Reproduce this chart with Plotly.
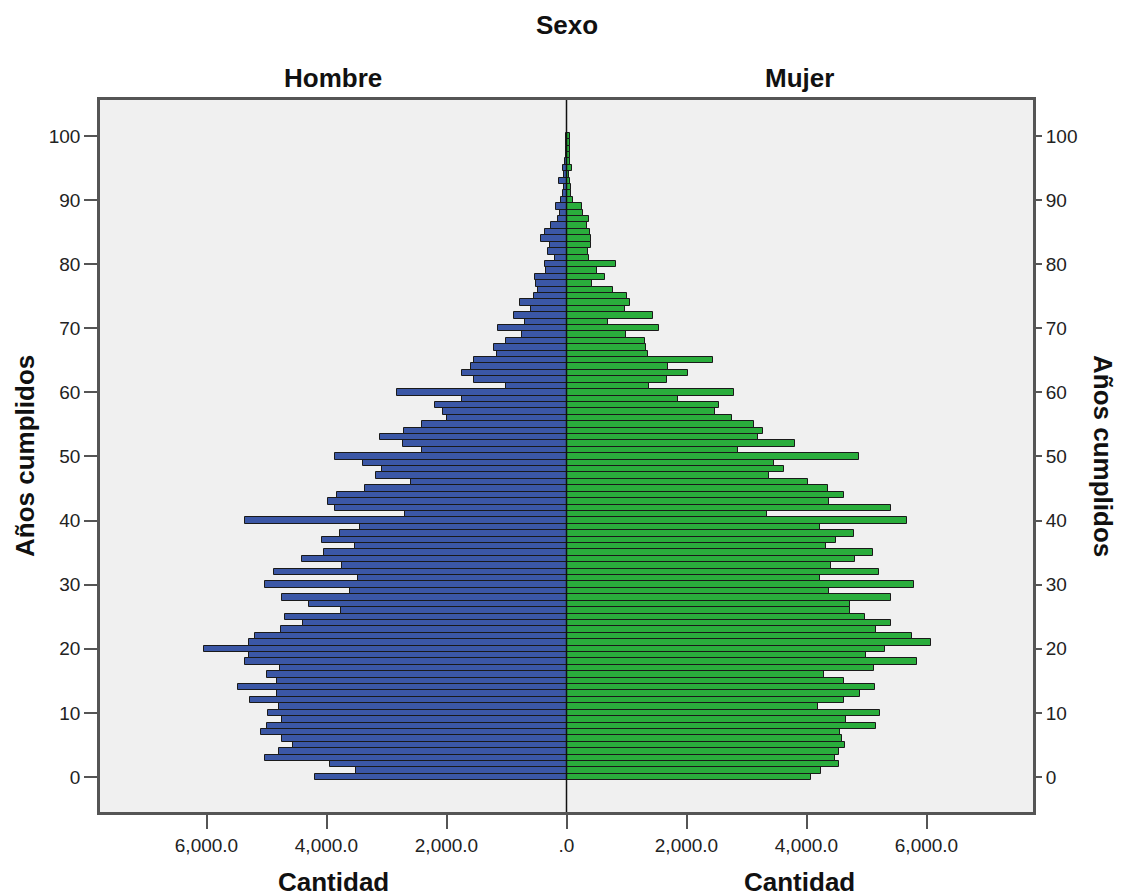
import plotly.graph_objects as go

ages = list(range(0, 101))

hombres = [4200, 3510, 3950, 5025, 4785, 4560, 4735, 5090, 5000, 4750,
           4975, 4795, 5280, 4825, 5475, 4820, 4990, 4775, 5365, 5290,
           6045, 5290, 5190, 4760, 4385, 4695, 3755, 4285, 4735, 3605,
           5025, 3475, 4875, 3750, 4410, 4045, 3530, 4070, 3780, 3450,
           5365, 2695, 3855, 3980, 3830, 3365, 2595, 3175, 3070, 3400,
           3865, 2405, 2720, 3110, 2710, 2415, 2000, 2055, 2195, 1750,
           2820, 1010, 1535, 1750, 1590, 1540, 1160, 1210, 1005, 745,
           1145, 690, 880, 595, 770, 540, 475, 505, 520, 340,
           355, 190, 305, 275, 420, 355, 255, 145, 115, 170,
           100, 60, 50, 130, 35, 60, 20, 15, 15, 10,
           5]

mujeres = [4080, 4245, 4535, 4480, 4535, 4635, 4595, 4550, 5160, 4660,
           5225, 4185, 4620, 4890, 5140, 4620, 4285, 5125, 5835, 4990,
           5305, 6070, 5755, 5160, 5405, 4975, 4725, 4725, 5405, 4370,
           5795, 4230, 5215, 4410, 4810, 5115, 4330, 4495, 4785, 4230,
           5680, 3335, 5405, 4370, 4620, 4355, 4020, 3375, 3625, 3460,
           4870, 2850, 3805, 3190, 3275, 3125, 2755, 2480, 2545, 1855,
           2795, 1375, 1675, 2025, 1690, 2445, 1360, 1325, 1300, 995,
           1535, 690, 1435, 980, 1060, 1010, 780, 430, 640, 500,
           830, 375, 350, 400, 410, 395, 340, 370, 270, 250,
           115, 70, 70, 50, 40, 85, 50, 60, 50, 50,
           60]

x_tickvals = [-6000, -4000, -2000, 0, 2000, 4000, 6000]
x_ticktext = ["6,000.0", "4,000.0", "2,000.0", ".0", "2,000.0", "4,000.0", "6,000.0"]
y_tickvals = list(range(0, 101, 10))

FONT = "Liberation Sans, Arial, sans-serif"
AXIS_COL = "#555555"
TICK_FONT = dict(size=19, color="#222222")
TITLE_FONT = dict(size=26, color="#111111")

fig = go.Figure()

fig.add_trace(go.Bar(
    y=ages, x=[-v for v in hombres], orientation="h", width=1.0,
    marker=dict(color="#3b57a6", line=dict(color="#1a1a1a", width=1)),
    name="Hombre", showlegend=False, hoverinfo="skip",
))
fig.add_trace(go.Bar(
    y=ages, x=mujeres, orientation="h", width=1.0,
    marker=dict(color="#2aad3c", line=dict(color="#1a1a1a", width=1)),
    name="Mujer", showlegend=False, hoverinfo="skip",
))
# invisible trace to carry the right-hand y axis
fig.add_trace(go.Scatter(
    x=[0], y=[0], yaxis="y2", mode="markers",
    marker=dict(opacity=0), showlegend=False, hoverinfo="skip",
))

fig.update_layout(
    width=1123, height=895,
    margin=dict(l=92, r=98, t=92, b=91),
    paper_bgcolor="white",
    plot_bgcolor="#f0f0f0",
    barmode="overlay",
    bargap=0,
    font=dict(family=FONT, size=19, color="#222222"),
    xaxis=dict(
        range=[-7775, 7775], tickvals=x_tickvals, ticktext=x_ticktext,
        ticks="outside", ticklen=14, tickwidth=2, tickcolor=AXIS_COL,
        showgrid=False, zeroline=False,
        showline=True, linecolor=AXIS_COL, linewidth=2.5, mirror=True,
        tickfont=TICK_FONT,
    ),
    yaxis=dict(
        range=[-5.46, 105.6], tickvals=y_tickvals,
        ticks="outside", ticklen=13, tickwidth=2, tickcolor=AXIS_COL,
        showgrid=False, zeroline=False,
        showline=True, linecolor=AXIS_COL, linewidth=2.5, mirror=True,
        tickfont=TICK_FONT,
    ),
    yaxis2=dict(
        range=[-5.46, 105.6], tickvals=y_tickvals, overlaying="y", side="right",
        ticks="outside", ticklen=8, tickwidth=2, tickcolor=AXIS_COL,
        showgrid=False, zeroline=False, showline=False,
        tickfont=TICK_FONT,
    ),
    shapes=[
        dict(type="line", xref="x", yref="paper", x0=0, x1=0, y0=0, y1=1,
             line=dict(color="#111111", width=1.5)),
    ],
    annotations=[
        dict(text="<b>Sexo</b>", xref="paper", yref="paper", x=0.5, y=1.0,
             xanchor="center", yanchor="middle", yshift=75,
             showarrow=False, font=TITLE_FONT),
        dict(text="<b>Hombre</b>", xref="paper", yref="paper", x=0.25, y=1.0,
             xanchor="center", yanchor="middle", yshift=22,
             showarrow=False, font=TITLE_FONT),
        dict(text="<b>Mujer</b>", xref="paper", yref="paper", x=0.75, y=1.0,
             xanchor="center", yanchor="middle", yshift=22,
             showarrow=False, font=TITLE_FONT),
        dict(text="<b>Cantidad</b>", xref="paper", yref="paper", x=0.25, y=0.0,
             xanchor="center", yanchor="middle", yshift=-70,
             showarrow=False, font=TITLE_FONT),
        dict(text="<b>Cantidad</b>", xref="paper", yref="paper", x=0.75, y=0.0,
             xanchor="center", yanchor="middle", yshift=-70,
             showarrow=False, font=TITLE_FONT),
        dict(text="<b>Años cumplidos</b>", xref="paper", yref="paper", x=0.0, y=0.5,
             xanchor="center", yanchor="middle", xshift=-75, textangle=-90,
             showarrow=False, font=TITLE_FONT),
        dict(text="<b>Años cumplidos</b>", xref="paper", yref="paper", x=1.0, y=0.5,
             xanchor="center", yanchor="middle", xshift=70, textangle=90,
             showarrow=False, font=TITLE_FONT),
    ],
)

fig.write_html("out.html")
